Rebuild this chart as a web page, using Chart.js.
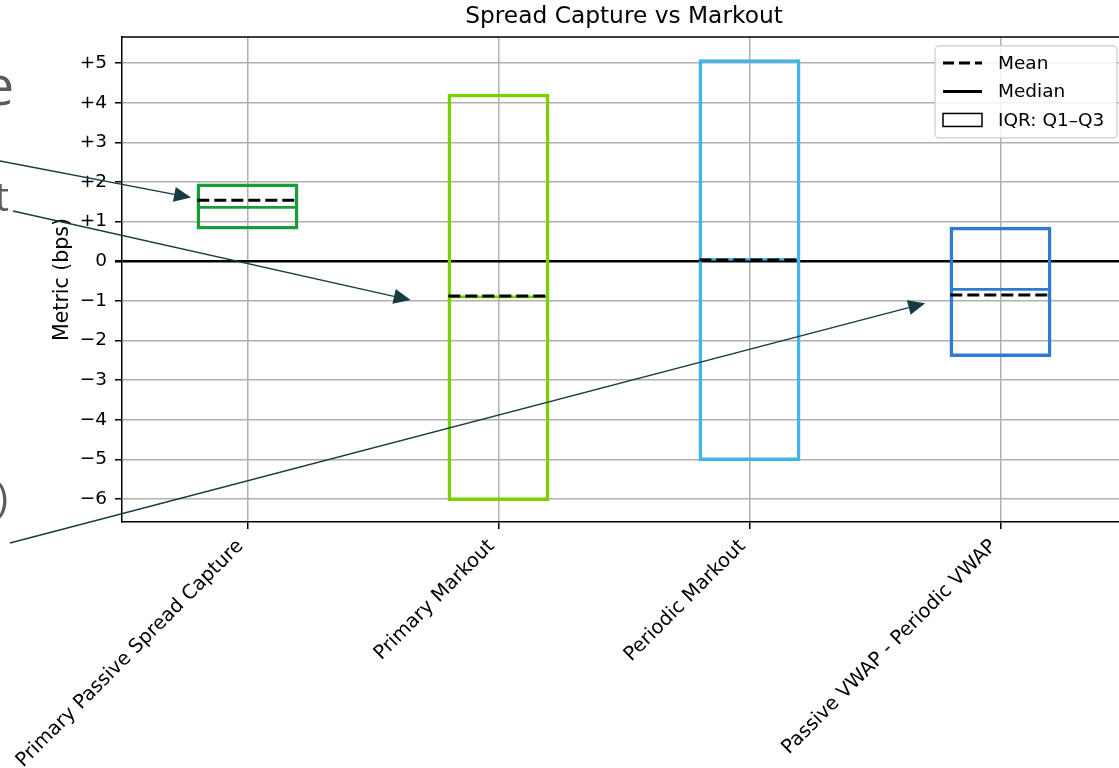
<!DOCTYPE html>
<html>
<head>
<meta charset="utf-8">
<script src="https://cdn.jsdelivr.net/npm/chart.js@4.4.1/dist/chart.umd.min.js"></script>
<style>
  html, body { margin: 0; padding: 0; background: #fff; overflow: hidden; }
  #wrap { width: 1119px; height: 768px; overflow: hidden; position: relative; }
  canvas { display: block; }
</style>
</head>
<body>
<div id="wrap"><canvas id="chart" width="1132" height="768"></canvas></div>
<script>
// Metric summary per measure (bps)
const categories = [
  'Primary Passive Spread Capture',
  'Primary Markout',
  'Periodic Markout',
  'Passive VWAP - Periodic VWAP'
];
const q1Values = [0.82, -6.03, -5.02, -2.40];
const q3Values = [1.94, 4.21, 5.08, 0.85];
const meanValues = [1.54, -0.88, 0.03, -0.85];
const medianValues = [1.36, -0.90, 0.05, -0.71];
const yTickValues = [-6, -5, -4, -3, -2, -1, 0, 1, 2, 3, 4, 5];

const boxColors = ['#179b3b', '#7bd000', '#3fb5e8', '#2e7bd6'];
const BOX_HALF = 0.2;
const FONT = 'DejaVu Sans';
const TICK_FONT = 18.5;

// Callout arrows: tail in canvas pixels, head in data units
const callouts = [
  { tail: [0, 161], head: [-0.225, 1.61] },
  { tail: [13, 211], head: [0.65, -0.98] },
  { tail: [10, 543], head: [2.70, -1.06] }
];
// Trailing characters of side text that runs off the left edge
const sideText = [
  { text: 'e', x: 14, y: 105, size: 54 },
  { text: 't', x: 9, y: 211, size: 40 },
  { text: ')', x: 8, y: 512, size: 40 }
];

const fmtTick = v => v > 0 ? '+' + v : (v < 0 ? '\u2212' + Math.abs(v) : '0');

const datasets = [];
// IQR boxes as floating bars; border + inflate gives a ~3px outline around Q1/Q3
datasets.push({
  type: 'bar',
  data: categories.map((c, i) => ({ x: i, y: [q1Values[i], q3Values[i]] })),
  backgroundColor: 'rgba(0,0,0,0)',
  borderColor: boxColors,
  borderWidth: 2,
  borderSkipped: false,
  inflateAmount: 0.75,
  barPercentage: 0.4,
  categoryPercentage: 1.0,
  order: 3
});
// Medians
categories.forEach((c, i) => {
  datasets.push({
    type: 'line',
    data: [{ x: i - BOX_HALF, y: medianValues[i] }, { x: i + BOX_HALF, y: medianValues[i] }],
    borderColor: boxColors[i],
    borderWidth: 2.6,
    pointRadius: 0,
    fill: false,
    order: 1
  });
});
// Means
categories.forEach((c, i) => {
  datasets.push({
    type: 'line',
    data: [{ x: i - BOX_HALF, y: meanValues[i] }, { x: i + BOX_HALF, y: meanValues[i] }],
    borderColor: '#000',
    borderWidth: 3,
    borderDash: [12, 5],
    borderCapStyle: 'butt',
    pointRadius: 0,
    fill: false,
    order: 0
  });
});

const framePlugin = {
  id: 'frame',
  afterDraw(chart) {
    const { ctx, chartArea: a, scales } = chart;
    ctx.save();
    // top spine and right spine
    ctx.strokeStyle = '#000';
    ctx.lineWidth = 1.5;
    ctx.beginPath();
    ctx.moveTo(a.left, a.top);
    ctx.lineTo(a.right, a.top);
    ctx.lineTo(a.right, a.bottom);
    ctx.stroke();

    // legend
    const lx = a.right - 191, ly = a.top + 9, lw = 182, lh = 92;
    ctx.beginPath();
    ctx.roundRect(lx, ly, lw, lh, 4);
    ctx.fillStyle = 'rgba(255,255,255,0.85)';
    ctx.fill();
    ctx.strokeStyle = '#cccccc';
    ctx.lineWidth = 1.2;
    ctx.stroke();

    const hx0 = lx + 8, hx1 = lx + 47;
    const rows = [ly + 17, ly + 45.5, ly + 74];
    ctx.strokeStyle = '#000';
    ctx.lineWidth = 3;
    ctx.setLineDash([11, 5]);
    ctx.beginPath(); ctx.moveTo(hx0, rows[0]); ctx.lineTo(hx1, rows[0]); ctx.stroke();
    ctx.setLineDash([]);
    ctx.beginPath(); ctx.moveTo(hx0, rows[1]); ctx.lineTo(hx1, rows[1]); ctx.stroke();
    ctx.lineWidth = 1.5;
    ctx.fillStyle = '#fff';
    ctx.fillRect(hx0, rows[2] - 6.5, hx1 - hx0, 13);
    ctx.strokeRect(hx0, rows[2] - 6.5, hx1 - hx0, 13);

    ctx.fillStyle = '#000';
    ctx.font = TICK_FONT + 'px "' + FONT + '"';
    ctx.textAlign = 'left';
    ctx.textBaseline = 'middle';
    ['Mean', 'Median', 'IQR: Q1\u2013Q3'].forEach((t, k) => ctx.fillText(t, lx + 63, rows[k] + 1));

    // callout arrows
    const x = scales.x, y = scales.y;
    ctx.strokeStyle = '#173a43';
    ctx.fillStyle = '#173a43';
    ctx.lineWidth = 1.3;
    callouts.forEach(c => {
      const tx = c.tail[0], ty = c.tail[1];
      const hx = x.getPixelForValue(c.head[0]), hy = y.getPixelForValue(c.head[1]);
      const ang = Math.atan2(hy - ty, hx - tx);
      const L = 17, W = 7.5;
      const bx = hx - L * Math.cos(ang), by = hy - L * Math.sin(ang);
      ctx.beginPath(); ctx.moveTo(tx, ty); ctx.lineTo(bx, by); ctx.stroke();
      ctx.beginPath();
      ctx.moveTo(hx, hy);
      ctx.lineTo(bx + W * Math.sin(ang), by - W * Math.cos(ang));
      ctx.lineTo(bx - W * Math.sin(ang), by + W * Math.cos(ang));
      ctx.closePath();
      ctx.fill();
    });

    // side text fragments
    ctx.fillStyle = '#5c5c5c';
    ctx.textAlign = 'right';
    ctx.textBaseline = 'alphabetic';
    sideText.forEach(s => {
      ctx.font = s.size + 'px "Open Sans"';
      ctx.fillText(s.text, s.x, s.y);
    });
    ctx.restore();
  }
};

new Chart(document.getElementById('chart'), {
  type: 'bar',
  data: { datasets },
  plugins: [framePlugin],
  options: {
    responsive: false,
    devicePixelRatio: 1,
    animation: false,
    events: [],
    layout: { padding: { left: 0, right: 6, top: 0, bottom: 0 } },
    plugins: {
      legend: { display: false },
      tooltip: { enabled: false },
      title: {
        display: true,
        text: 'Spread Capture vs Markout',
        fullSize: false,
        color: '#000',
        font: { family: FONT, size: 23.3, weight: 'normal' },
        padding: { top: 3, bottom: 6 }
      }
    },
    scales: {
      x: {
        type: 'linear',
        min: -0.5,
        max: 3.5,
        offset: false,
        afterBuildTicks: s => { s.ticks = categories.map((c, i) => ({ value: i })); },
        afterFit: s => { s.height = 246; },
        ticks: {
          callback: v => categories[v],
          autoSkip: false,
          minRotation: 45,
          maxRotation: 45,
          color: '#000',
          font: { family: FONT, size: 19.5 },
          padding: 6,
          labelOffset: -7
        },
        grid: { offset: false, color: '#b0b0b0', lineWidth: 1.5, tickColor: '#000', tickLength: 7, tickWidth: 1.5 },
        border: { display: true, color: '#000', width: 1.5 }
      },
      y: {
        type: 'linear',
        min: -6.58,
        max: 5.66,
        afterBuildTicks: s => { s.ticks = yTickValues.map(v => ({ value: v })); },
        afterFit: s => { s.width = 122; },
        ticks: {
          callback: v => fmtTick(v),
          color: '#000',
          font: { family: FONT, size: TICK_FONT },
          padding: 8
        },
        grid: {
          color: c => (c.tick && c.tick.value === 0) ? '#000' : '#b0b0b0',
          lineWidth: c => (c.tick && c.tick.value === 0) ? 2.6 : 1.5,
          tickColor: '#000',
          tickLength: 7
        },
        border: { display: true, color: '#000', width: 1.5 },
        title: {
          display: true,
          text: 'Metric (bps)',
          color: '#000',
          font: { family: FONT, size: 20.5 },
          padding: { top: 50, bottom: 0 }
        }
      }
    }
  }
});
</script>
</body>
</html>
